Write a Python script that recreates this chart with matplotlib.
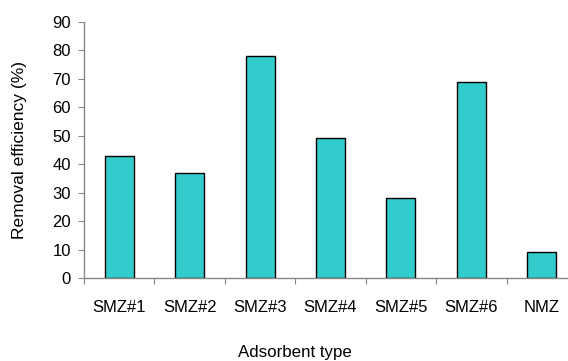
import matplotlib.pyplot as plt

# Données
categories = ['SMZ#1', 'SMZ#2', 'SMZ#3', 'SMZ#4', 'SMZ#5', 'SMZ#6', 'NMZ']
efficiency = [43, 37, 78, 49, 28, 69, 9]
yticks = list(range(0, 100, 10))

plt.rcParams['font.family'] = ['Liberation Sans', 'DejaVu Sans']

W, H = 568, 361
fig = plt.figure(figsize=(W / 100, H / 100), dpi=100)
# l'axe x dépasse légèrement le bord droit de l'image, comme dans l'original
ax = fig.add_axes([84 / W, 1 - 278 / H, (577 - 84) / W, (278 - 21.7) / H])

x = list(range(len(categories)))
ax.bar(x, efficiency, width=0.41, color='#33CCCC', edgecolor='black', linewidth=1.0)

ax.set_xlim(-0.5, len(categories) - 0.5)
ax.set_ylim(0, 90)
ax.set_yticks(yticks)
ax.tick_params(axis='y', direction='out', length=4.5, color='#888888', labelsize=12, pad=5)

# graduations x entre les catégories, étiquettes au centre
ax.set_xticks([i - 0.5 for i in range(len(categories) + 1)])
ax.set_xticklabels([])
ax.set_xticks(x, minor=True)
ax.set_xticklabels(categories, minor=True)
ax.tick_params(axis='x', which='major', direction='out', length=4.5, color='#888888')
ax.tick_params(axis='x', which='minor', length=0, labelsize=12, pad=16)

for side in ['top', 'right']:
    ax.spines[side].set_visible(False)
for side in ['left', 'bottom']:
    ax.spines[side].set_color('#888888')
    ax.spines[side].set_linewidth(1.0)

fig.text(20 / W, 1 - 150 / H, 'Removal efficiency (%)', ha='center', va='center',
         rotation=90, fontsize=12.5)
fig.text(295 / W, 1 - 352 / H, 'Adsorbent type', ha='center', va='center', fontsize=12.2)

fig.savefig('out.png', dpi=100)
